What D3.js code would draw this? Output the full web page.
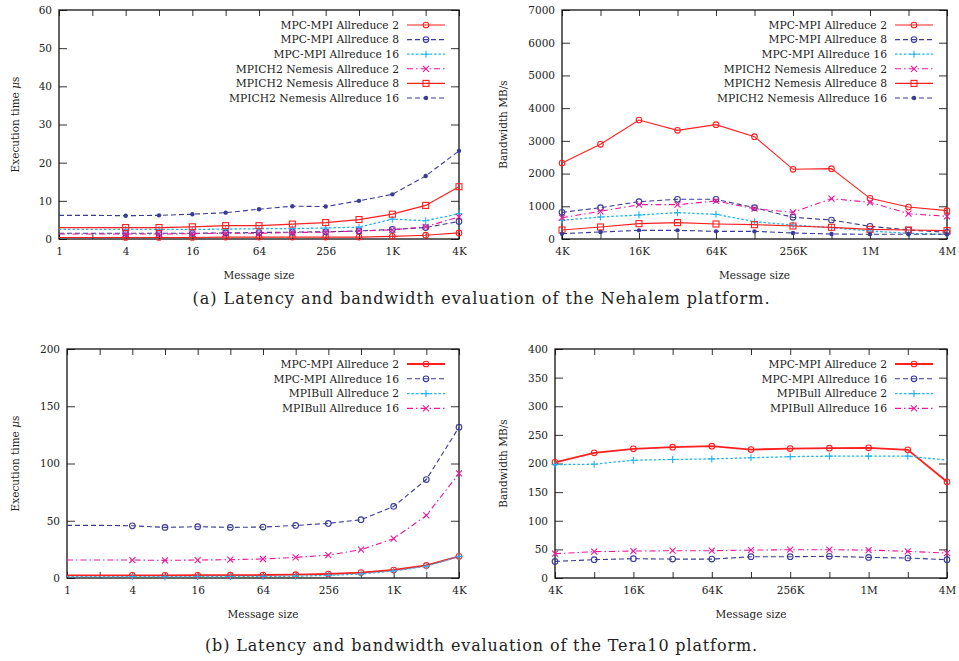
<!DOCTYPE html>
<html>
<head>
<meta charset="utf-8">
<script src="https://cdn.jsdelivr.net/npm/d3@7"></script>
<style>
  body { margin: 0; background: #fff; }
  text { font-family: "DejaVu Serif", serif; fill: #222; }
</style>
</head>
<body>
<div id="chart"></div>
<script>
// Message sizes (bytes)
const latencySizes = [1, 2, 4, 8, 16, 32, 64, 128, 256, 512, 1024, 2048, 4096];
const bandwidthSizes = [4096, 8192, 16384, 32768, 65536, 131072, 262144, 524288, 1048576, 2097152, 4194304];

// (a) Nehalem - latency (us)
const nehLatMpc2   = [0.4, 0.4, 0.4, 0.4, 0.4, 0.5, 0.5, 0.5, 0.5, 0.5, 0.7, 1.0, 1.6];
const nehLatMpc8   = [1.5, 1.5, 1.5, 1.5, 1.5, 1.6, 1.7, 1.8, 1.9, 2.1, 2.5, 3.0, 4.6];
const nehLatMpc16  = [2.5, 2.5, 2.5, 2.5, 2.5, 2.6, 2.7, 2.7, 2.9, 3.1, 5.2, 4.8, 6.6];
const nehLatNem2   = [1.3, 1.3, 1.3, 1.3, 1.4, 1.5, 1.5, 1.7, 1.8, 2.1, 2.4, 3.2, 5.8];
const nehLatNem8   = [3.0, 3.0, 3.0, 3.0, 3.2, 3.5, 3.5, 3.9, 4.3, 5.1, 6.5, 8.8, 13.7];
const nehLatNem16  = [6.2, 6.2, 6.1, 6.2, 6.5, 6.9, 7.8, 8.6, 8.5, 10.0, 11.7, 16.5, 23.1];

// (a) Nehalem - bandwidth (MB/s)
const nehBwMpc2   = [2323, 2894, 3638, 3322, 3495, 3128, 2130, 2150, 1243, 978, 866];
const nehBwMpc8   = [815, 958, 1141, 1213, 1213, 958, 662, 581, 387, 275, 204];
const nehBwMpc16  = [571, 672, 734, 805, 754, 530, 428, 346, 245, 173, 143];
const nehBwNem2   = [652, 846, 1050, 1050, 1162, 927, 815, 1233, 1121, 774, 693];
const nehBwNem8   = [275, 367, 469, 499, 459, 438, 397, 357, 296, 275, 255];
const nehBwNem16  = [163, 214, 265, 265, 234, 234, 183, 153, 143, 143, 143];

// (b) Tera10 - latency (us)
const teraLatMpc2   = [2.3, 2.3, 2.3, 2.3, 2.4, 2.5, 2.6, 2.9, 3.5, 4.7, 7.0, 11.0, 18.9];
const teraLatMpc16  = [46, 46, 45.6, 44.2, 44.8, 44.2, 44.5, 45.9, 47.7, 50.9, 62.5, 86, 131.7];
const teraLatBull2  = [1.2, 1.2, 1.2, 1.2, 1.3, 1.3, 1.4, 1.6, 2.3, 3.5, 6.1, 10.2, 18.9];
const teraLatBull16 = [15.7, 15.7, 15.7, 15.4, 15.7, 16, 16.6, 18, 20, 24.7, 34.3, 54.7, 91.3];

// (b) Tera10 - bandwidth (MB/s)
const teraBwMpc2   = [202, 218.6, 225.6, 228.5, 230.2, 224.4, 226, 226.7, 227.3, 223.8, 168];
const teraBwMpc16  = [29, 32, 33.7, 33, 33, 37.2, 37.2, 37.8, 36, 34.9, 32];
const teraBwBull2  = [198, 198.8, 205.8, 207, 208, 210, 212, 212.8, 212.8, 212.8, 205.8];
const teraBwBull16 = [42.4, 46, 47, 47.7, 47.7, 48.8, 49.4, 49.4, 48.8, 46.5, 43.6];

// Line styles
const styles = {
    mpc2:     { color: "#ff1f1f", dash: null,        marker: "circle", width: 1.1 },
    mpc2bold: { color: "#ff1f1f", dash: null,        marker: "circle", width: 1.8 },
    mpc8:     { color: "#3a3a98", dash: "5,3",       marker: "circle", width: 1.1 },
    mpc16:    { color: "#22b4f0", dash: "2.5,2",     marker: "plus",   width: 1.3 },
    mpc16b:   { color: "#3a3a98", dash: "5,3",       marker: "circle", width: 1.1 },
    nem2:     { color: "#e8189a", dash: "6,3,1.5,3", marker: "cross",  width: 1.1 },
    nem8:     { color: "#ff1f1f", dash: null,        marker: "square", width: 1.2 },
    nem16:    { color: "#3a3a98", dash: "5,3",       marker: "dot",    width: 1.1 }
};

const FONT = "DejaVu Serif";

const svg = d3.select("#chart").append("svg")
    .attr("width", 959)
    .attr("height", 661);

svg.append("rect").attr("width", 959).attr("height", 661).attr("fill", "#fff");

function sizeLabel(n) {
    if (n < 1024) return String(n);
    if (n < 1048576) return (n / 1024) + "K";
    return (n / 1048576) + "M";
}

function drawMarker(g, shape, x, y, color) {
    if (shape === "circle") {
        g.append("circle").attr("cx", x).attr("cy", y).attr("r", 2.8)
            .attr("fill", "none").attr("stroke", color).attr("stroke-width", 1.1);
    } else if (shape === "dot") {
        g.append("circle").attr("cx", x).attr("cy", y).attr("r", 2.2)
            .attr("fill", color);
    } else if (shape === "square") {
        g.append("rect").attr("x", x - 3).attr("y", y - 3).attr("width", 6).attr("height", 6)
            .attr("fill", "none").attr("stroke", color).attr("stroke-width", 1.1);
    } else if (shape === "plus") {
        g.append("path").attr("d", `M${x - 3.5},${y}h7M${x},${y - 3.5}v7`)
            .attr("stroke", color).attr("stroke-width", 1.1);
    } else if (shape === "cross") {
        g.append("path").attr("d", `M${x - 3},${y - 3}l6,6M${x + 3},${y - 3}l-6,6`)
            .attr("stroke", color).attr("stroke-width", 1.1);
    }
}

function drawPanel(p) {
    const g = svg.append("g");
    const x = d3.scaleLog().base(2).domain(d3.extent(p.sizes)).range([p.left, p.right]);
    const y = d3.scaleLinear().domain([0, p.yMax]).range([p.bottom, p.top]);

    const xTicks = p.sizes;
    const fmtX = d => (Math.round(Math.log2(d)) % 2 === 0 ? sizeLabel(d) : "");

    // bottom axis with labels, ticks pointing inward
    const xb = g.append("g").attr("transform", `translate(0,${p.bottom})`)
        .call(d3.axisBottom(x).tickValues(xTicks).tickFormat(fmtX).tickSize(-6).tickPadding(9));
    // top mirror
    const xt = g.append("g").attr("transform", `translate(0,${p.top})`)
        .call(d3.axisTop(x).tickValues(xTicks).tickFormat("").tickSize(-6));

    const yl = g.append("g").attr("transform", `translate(${p.left},0)`)
        .call(d3.axisLeft(y).ticks(p.yTicks).tickFormat(d3.format("d")).tickSize(-8).tickPadding(7));
    const yr = g.append("g").attr("transform", `translate(${p.right},0)`)
        .call(d3.axisRight(y).ticks(p.yTicks).tickFormat("").tickSize(-8));

    [xb, xt, yl, yr].forEach(a => {
        a.attr("font-family", FONT);
        a.select(".domain").remove();
        a.selectAll("line").attr("stroke", "#333").attr("stroke-width", 1);
        a.selectAll("text").attr("font-size", 10.5).attr("fill", "#222");
    });

    // frame
    g.append("rect")
        .attr("x", p.left).attr("y", p.top)
        .attr("width", p.right - p.left).attr("height", p.bottom - p.top)
        .attr("fill", "none").attr("stroke", "#111").attr("stroke-width", 1.3);

    // series
    const line = d3.line().x(d => x(d[0])).y(d => y(d[1]));
    p.series.forEach(s => {
        const st = styles[s.style];
        const pts = p.sizes.map((v, i) => [v, s.values[i]]);
        g.append("path").datum(pts)
            .attr("d", line)
            .attr("fill", "none")
            .attr("stroke", st.color)
            .attr("stroke-width", st.width)
            .attr("stroke-dasharray", st.dash);
        const mg = g.append("g");
        pts.forEach((d, i) => {
            if (i < p.firstMarker || i > p.lastMarker(s)) return;
            drawMarker(mg, st.marker, x(d[0]), y(d[1]), st.color);
        });
    });

    // legend
    const lg = g.append("g");
    p.series.forEach((s, i) => {
        const st = styles[s.style];
        const ly = p.legendY + i * p.legendStep;
        lg.append("text")
            .attr("x", p.legendX)
            .attr("y", ly)
            .attr("dy", "0.35em")
            .attr("text-anchor", "end")
            .attr("font-size", 10.75)
            .text(s.name);
        lg.append("line")
            .attr("x1", p.legendX + 8).attr("x2", p.legendX + 46)
            .attr("y1", ly).attr("y2", ly)
            .attr("stroke", st.color)
            .attr("stroke-width", st.width)
            .attr("stroke-dasharray", st.dash);
        drawMarker(lg, st.marker, p.legendX + 27, ly, st.color);
    });

    // axis titles
    const yt = g.append("text")
        .attr("transform", `translate(${p.yTitleX},${(p.top + p.bottom) / 2}) rotate(-90)`)
        .attr("text-anchor", "middle")
        .attr("font-size", 10.5);
    yt.append("tspan").text(p.yTitle);
    if (p.yUnitItalic) {
        yt.append("tspan").text(" ");
        yt.append("tspan").attr("font-style", "italic").text("\u03bc");
        yt.append("tspan").text("s");
    }

    g.append("text")
        .attr("x", (p.left + p.right) / 2)
        .attr("y", p.bottom + 40)
        .attr("text-anchor", "middle")
        .attr("font-size", 10.5)
        .text("Message size");
}

const allMarkers = () => 99;

drawPanel({
    left: 59, right: 459, top: 10, bottom: 239,
    sizes: latencySizes, yMax: 60, yTicks: 6,
    firstMarker: 2, lastMarker: allMarkers,
    yTitle: "Execution time", yUnitItalic: true, yTitleX: 19,
    legendX: 399, legendY: 25, legendStep: 14.6,
    series: [
        { name: "MPC-MPI Allreduce 2", style: "mpc2", values: nehLatMpc2 },
        { name: "MPC-MPI Allreduce 8", style: "mpc8", values: nehLatMpc8 },
        { name: "MPC-MPI Allreduce 16", style: "mpc16", values: nehLatMpc16 },
        { name: "MPICH2 Nemesis Allreduce 2", style: "nem2", values: nehLatNem2 },
        { name: "MPICH2 Nemesis Allreduce 8", style: "nem8", values: nehLatNem8 },
        { name: "MPICH2 Nemesis Allreduce 16", style: "nem16", values: nehLatNem16 }
    ]
});

drawPanel({
    left: 562, right: 947, top: 10, bottom: 239,
    sizes: bandwidthSizes, yMax: 7000, yTicks: 7,
    firstMarker: 0, lastMarker: allMarkers,
    yTitle: "Bandwidth MB/s", yUnitItalic: false, yTitleX: 507,
    legendX: 887, legendY: 25, legendStep: 14.6,
    series: [
        { name: "MPC-MPI Allreduce 2", style: "mpc2", values: nehBwMpc2 },
        { name: "MPC-MPI Allreduce 8", style: "mpc8", values: nehBwMpc8 },
        { name: "MPC-MPI Allreduce 16", style: "mpc16", values: nehBwMpc16 },
        { name: "MPICH2 Nemesis Allreduce 2", style: "nem2", values: nehBwNem2 },
        { name: "MPICH2 Nemesis Allreduce 8", style: "nem8", values: nehBwNem8 },
        { name: "MPICH2 Nemesis Allreduce 16", style: "nem16", values: nehBwNem16 }
    ]
});

drawPanel({
    left: 67, right: 459, top: 349, bottom: 578,
    sizes: latencySizes, yMax: 200, yTicks: 4,
    firstMarker: 2, lastMarker: allMarkers,
    yTitle: "Execution time", yUnitItalic: true, yTitleX: 19,
    legendX: 399, legendY: 364, legendStep: 14.8,
    series: [
        { name: "MPC-MPI Allreduce 2", style: "mpc2bold", values: teraLatMpc2 },
        { name: "MPC-MPI Allreduce 16", style: "mpc16b", values: teraLatMpc16 },
        { name: "MPIBull Allreduce 2", style: "mpc16", values: teraLatBull2 },
        { name: "MPIBull Allreduce 16", style: "nem2", values: teraLatBull16 }
    ]
});

drawPanel({
    left: 555, right: 947, top: 349, bottom: 578,
    sizes: bandwidthSizes, yMax: 400, yTicks: 8,
    firstMarker: 0, lastMarker: s => (s.style === "mpc16" ? 9 : 99),
    yTitle: "Bandwidth MB/s", yUnitItalic: false, yTitleX: 507,
    legendX: 887, legendY: 364, legendStep: 14.8,
    series: [
        { name: "MPC-MPI Allreduce 2", style: "mpc2bold", values: teraBwMpc2 },
        { name: "MPC-MPI Allreduce 16", style: "mpc16b", values: teraBwMpc16 },
        { name: "MPIBull Allreduce 2", style: "mpc16", values: teraBwBull2 },
        { name: "MPIBull Allreduce 16", style: "nem2", values: teraBwBull16 }
    ]
});

// Captions
svg.append("text")
    .attr("x", 481).attr("y", 304)
    .attr("text-anchor", "middle")
    .attr("font-size", 16)
    .attr("textLength", 577)
    .attr("lengthAdjust", "spacing")
    .text("(a) Latency and bandwidth evaluation of the Nehalem platform.");

svg.append("text")
    .attr("x", 481).attr("y", 651)
    .attr("text-anchor", "middle")
    .attr("font-size", 16)
    .attr("textLength", 552)
    .attr("lengthAdjust", "spacing")
    .text("(b) Latency and bandwidth evaluation of the Tera10 platform.");
</script>
</body>
</html>
